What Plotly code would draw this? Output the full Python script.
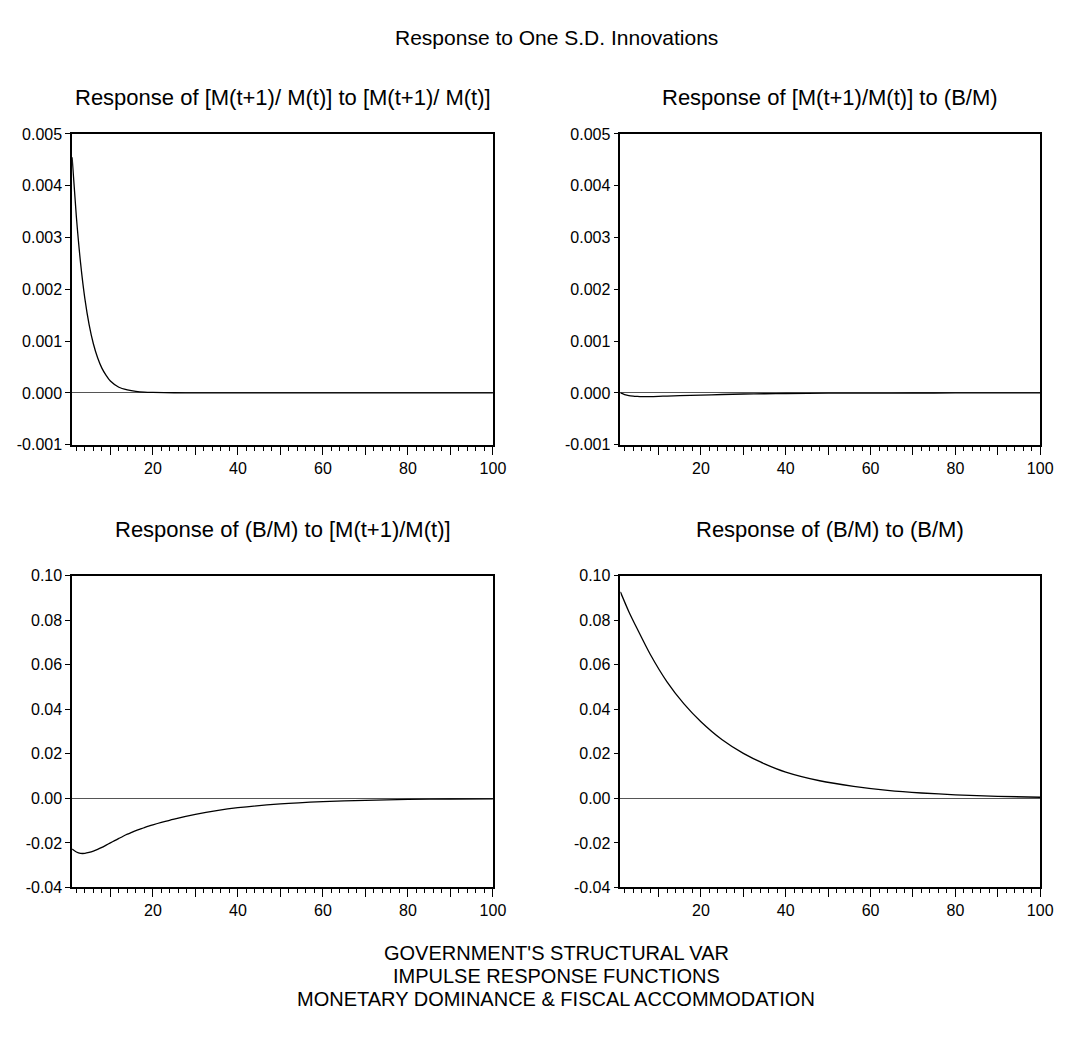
import plotly.graph_objects as go

# Impulse responses (period, response) for each shock/variable pair
mm_periods = [1, 2, 3, 4, 5, 6, 7, 8, 9, 10, 12, 14, 16, 18, 20, 25, 30, 40, 50, 60, 70, 80, 90, 100]
mm_values = [0.00455, 0.0034, 0.0025, 0.00182, 0.00132, 0.00095, 0.00068, 0.00048, 0.00034, 0.00023,
             0.00011, 0.00006, 0.00003, 0.000015, 0.00001, 0.000004, 0.000002, 0.000001,
             0.0, 0.0, 0.0, 0.0, 0.0, 0.0]

mb_periods = [1, 2, 3, 4, 5, 6, 8, 10, 12, 15, 20, 25, 30, 35, 40, 50, 60, 70, 80, 90, 100]
mb_values = [0.0, -0.00003, -0.00005, -0.00006, -0.000066, -0.00007, -0.00007, -0.000066, -0.00006,
             -0.00005, -0.00004, -0.00003, -0.00002, -0.000015, -0.00001, -0.000005, -0.000002,
             -0.000001, 0.0, 0.0, 0.0]

bm_periods = [1, 2, 3, 4, 5, 6, 7, 8, 9, 10, 11, 12, 13, 14, 15, 16, 17, 18, 19, 20,
              22, 25, 30, 35, 40, 50, 60, 70, 80, 90, 100]
bm_values = [-0.0228, -0.0241, -0.0247, -0.0247, -0.0243, -0.0237, -0.0229, -0.0220, -0.0210, -0.0200,
             -0.0190, -0.0180, -0.0170, -0.0161, -0.0153, -0.0145, -0.0138, -0.0131, -0.0125, -0.0119,
             -0.0108, -0.0093, -0.0072, -0.0055, -0.0042, -0.0025, -0.0015, -0.0009,
             -0.0005, -0.0003, -0.0002]

bb_periods = [1, 3, 5, 8, 12, 16, 20, 25, 30, 35, 40, 48, 56, 64, 72, 80, 90, 100]
bb_values = [0.0927, 0.0838, 0.0760, 0.0648, 0.0523, 0.0424, 0.0344, 0.0263, 0.0202, 0.0155, 0.0118,
             0.0079, 0.0054, 0.0036, 0.0024, 0.0016, 0.0009, 0.0005]

panel_titles = [
    "Response of [M(t+1)/ M(t)] to [M(t+1)/ M(t)]",
    "Response of [M(t+1)/M(t)] to (B/M)",
    "Response of (B/M) to [M(t+1)/M(t)]",
    "Response of (B/M) to (B/M)",
]
main_title = "Response to One S.D. Innovations"
footer_lines = [
    "GOVERNMENT'S STRUCTURAL VAR",
    "IMPULSE RESPONSE FUNCTIONS",
    "MONETARY DOMINANCE &amp; FISCAL ACCOMMODATION",
]

top_ticks = [-0.001, 0.0, 0.001, 0.002, 0.003, 0.004, 0.005]
top_ticktext = ["-0.001", "0.000", "0.001", "0.002", "0.003", "0.004", "0.005"]
bottom_ticks = [-0.04, -0.02, 0.0, 0.02, 0.04, 0.06, 0.08, 0.10]
bottom_ticktext = ["-0.04", "-0.02", "0.00", "0.02", "0.04", "0.06", "0.08", "0.10"]
x_ticks = [10, 20, 30, 40, 50, 60, 70, 80, 90, 100]
x_ticktext = ["", "20", "", "40", "", "60", "", "80", "", "100"]

W, H = 1070, 1044
FONT = "Liberation Sans, Arial, sans-serif"

# panel frames in pixels: (left, right, top, bottom)
frames = [(73, 499, 128, 444), (628, 1053, 128, 444),
          (73, 499, 577, 894), (628, 1053, 577, 894)]
series = [(mm_periods, mm_values), (mb_periods, mb_values),
          (bm_periods, bm_values), (bb_periods, bb_values)]

fig = go.Figure()
layout = dict(
    width=W, height=H, autosize=False,
    margin=dict(l=0, r=0, t=0, b=0),
    paper_bgcolor="white", plot_bgcolor="white",
    showlegend=False,
    font=dict(family=FONT, color="black"),
)

annotations = []
for i, ((px, py), (l, r, t, b)) in enumerate(zip(series, frames)):
    n = i + 1
    xa = "xaxis" if n == 1 else f"xaxis{n}"
    ya = "yaxis" if n == 1 else f"yaxis{n}"
    xref = "x" if n == 1 else f"x{n}"
    yref = "y" if n == 1 else f"y{n}"
    fig.add_trace(go.Scatter(
        x=px, y=py, mode="lines", xaxis=xref, yaxis=yref,
        line=dict(color="black", width=1.3, shape="spline", smoothing=0.7),
        hoverinfo="skip",
    ))
    top_row = i < 2
    layout[xa] = dict(
        domain=[l / W, r / W], anchor=yref, range=[1, 100],
        showline=True, linecolor="black", linewidth=1.5, mirror=True,
        showgrid=False, zeroline=False,
        tickmode="array", tickvals=x_ticks, ticktext=x_ticktext,
        ticks="outside", ticklen=8, tickwidth=1, tickcolor="black",
        tickfont=dict(family=FONT, size=16, color="black"),
        minor=dict(tick0=0, dtick=2, ticks="outside", ticklen=4, tickwidth=1,
                   tickcolor="black", showgrid=False),
    )
    layout[ya] = dict(
        domain=[1 - b / H, 1 - t / H], anchor=xref,
        range=[-0.001, 0.005] if top_row else [-0.04, 0.10],
        showline=True, linecolor="black", linewidth=1.5, mirror=True,
        showgrid=False, zeroline=True, zerolinecolor="#555555", zerolinewidth=1,
        tickmode="array",
        tickvals=top_ticks if top_row else bottom_ticks,
        ticktext=top_ticktext if top_row else bottom_ticktext,
        ticks="outside", ticklen=5, tickwidth=1, tickcolor="black",
        tickfont=dict(family=FONT, size=16, color="black"),
    )
    annotations.append(dict(
        text=panel_titles[i], xref="paper", yref="paper",
        x=(l + r) / 2 / W, y=1 - (91 if top_row else 530) / H,
        xanchor="center", yanchor="middle", showarrow=False,
        font=dict(family=FONT, size=22, color="black"),
    ))

annotations.append(dict(
    text=main_title, xref="paper", yref="paper", x=563 / W, y=1 - 30 / H,
    xanchor="center", yanchor="middle", showarrow=False,
    font=dict(family=FONT, size=21, color="black"),
))
for k, (line, ypix) in enumerate(zip(footer_lines, [961, 984, 1007])):
    annotations.append(dict(
        text=line, xref="paper", yref="paper", x=563 / W, y=1 - ypix / H,
        xanchor="center", yanchor="middle", showarrow=False,
        font=dict(family=FONT, size=20, color="black"),
    ))

layout["annotations"] = annotations
fig.update_layout(**layout)
fig.write_html("out.html")
